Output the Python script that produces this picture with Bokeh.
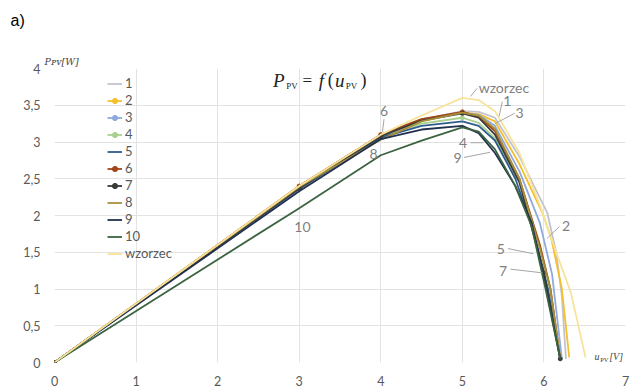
from bokeh.plotting import figure
from bokeh.models import Range1d, Legend, LegendItem, Label, Title, CustomJSTickFormatter, FixedTicker
from bokeh.embed import file_html
from bokeh.resources import INLINE

# ---------------- data ----------------
names = ["1", "2", "3", "4", "5", "6", "7", "8", "9", "10", "wzorzec"]
colors = ["#C3C3CF", "#F5C02C", "#8FAADC", "#A9D18E", "#2F5C8F", "#A0461A",
          "#3A3A3A", "#A8903A", "#22304F", "#3C6440", "#F8E39A"]

x1 = [0, 3, 4, 4.5, 5, 5.2, 5.4, 5.7, 6.04, 6.15, 6.22, 6.27]
y1 = [0, 2.38, 3.08, 3.30, 3.42, 3.41, 3.33, 2.8, 2.04, 1.5, 0.9, 0.05]
x2 = [0, 3, 4, 4.5, 5, 5.2, 5.4, 5.7, 5.98, 6.09, 6.22, 6.31]
y2 = [0, 2.40, 3.10, 3.31, 3.40, 3.38, 3.28, 2.7, 2.04, 1.69, 1.0, 0.07]
x3 = [0, 3, 4, 4.5, 5, 5.2, 5.4, 5.7, 5.95, 6.1, 6.22]
y3 = [0, 2.38, 3.08, 3.29, 3.40, 3.37, 3.22, 2.6, 1.9, 1.2, 0.05]
x4 = [0, 3, 4, 4.5, 5, 5.2, 5.4, 5.7, 5.95, 6.08, 6.2]
y4 = [0, 2.38, 3.07, 3.25, 3.33, 3.26, 3.05, 2.45, 1.6, 1.0, 0.05]
x5 = [0, 3, 4, 4.5, 5, 5.2, 5.4, 5.65, 5.87, 6.05, 6.2]
y5 = [0, 2.36, 3.06, 3.22, 3.28, 3.22, 3.02, 2.5, 1.8, 1.0, 0.05]
x6 = [0, 3, 4, 4.5, 5, 5.2, 5.4, 5.7, 5.95, 6.08, 6.2]
y6 = [0, 2.40, 3.10, 3.31, 3.41, 3.35, 3.15, 2.5, 1.6, 1.0, 0.05]
x7 = [0, 3, 4, 4.5, 5, 5.2, 5.4, 5.7, 6.0, 6.2]
y7 = [0, 2.37, 3.08, 3.29, 3.39, 3.33, 3.1, 2.45, 1.22, 0.05]
x8 = [0, 3, 4, 4.5, 5, 5.2, 5.4, 5.7, 5.95, 6.08, 6.2]
y8 = [0, 2.39, 3.03, 3.28, 3.40, 3.36, 3.18, 2.5, 1.55, 1.0, 0.05]
x9 = [0, 3, 4, 4.5, 5, 5.2, 5.4, 5.65, 5.85, 6.03, 6.2]
y9 = [0, 2.33, 3.04, 3.17, 3.22, 3.12, 2.85, 2.4, 1.9, 1.0, 0.05]
x10 = [0, 3, 4, 4.5, 5, 5.2, 5.4, 5.65, 5.85, 6.02, 6.2]
y10 = [0, 2.10, 2.82, 3.02, 3.20, 3.14, 2.9, 2.4, 1.85, 1.0, 0.05]
xw = [0, 3, 4, 4.5, 5, 5.2, 5.4, 5.7, 5.96, 6.15, 6.33, 6.51]
yw = [0, 2.40, 3.10, 3.36, 3.60, 3.57, 3.42, 2.85, 2.11, 1.5, 0.95, 0.07]

xs = [x1, x2, x3, x4, x5, x6, x7, x8, x9, x10, xw]
ys = [y1, y2, y3, y4, y5, y6, y7, y8, y9, y10, yw]

# series drawn with markers, and the measured voltages where a marker sits
marked = {"2": [0, 3, 4, 5], "3": [0, 3, 4, 5], "4": [0, 3, 4, 5],
          "6": [0, 3, 4, 5], "7": [0, 3, 4, 5, 6.0, 6.2]}

x_ticks = [0, 1, 2, 3, 4, 5, 6, 7]
y_ticks = [0, 0.5, 1, 1.5, 2, 2.5, 3, 3.5, 4]

# in-plot data labels: text, x, y, leader (x0, y0, x1, y1) or None, align
point_labels = [
    ("wzorzec", 5.20, 3.74, (5.18, 3.73, 5.10, 3.62), "left"),
    ("1", 5.55, 3.56, (5.49, 3.55, 5.45, 3.35), "center"),
    ("3", 5.70, 3.39, (5.64, 3.39, 5.40, 3.25), "center"),
    ("4", 5.01, 2.98, (5.10, 2.99, 5.26, 2.99), "center"),
    ("9", 4.94, 2.78, (5.02, 2.79, 5.34, 2.86), "center"),
    ("2", 6.27, 1.86, (6.19, 1.85, 6.04, 1.69), "center"),
    ("5", 5.47, 1.55, (5.56, 1.55, 5.87, 1.48), "center"),
    ("7", 5.50, 1.25, (5.59, 1.27, 5.98, 1.22), "center"),
    ("10", 3.04, 1.84, None, "center"),
    ("6", 4.04, 3.42, (4.04, 3.31, 4.02, 3.14), "center"),
    ("8", 3.91, 2.84, None, "center"),
]

# ---------------- figure ----------------
p = figure(width=633, height=389, output_backend="svg", toolbar_location=None,
           x_range=Range1d(0, 7), y_range=Range1d(0, 4),
           min_border_left=54, min_border_right=8, min_border_top=68, min_border_bottom=27)
p.outline_line_color = None
p.background_fill_color = "white"
p.border_fill_color = "white"

# panel tag (outermost title) and caption of the y axis (nearest the frame)
p.title = Title(text="a)\n\u00a0", align="left", offset=-44, standoff=14,
                text_font="Liberation Sans", text_font_size="16px",
                text_font_style="normal", text_color="#000000")
p.add_layout(Title(text="P\u1d18\u1d20[W]", align="left", offset=-10, standoff=3,
                   text_font="DejaVu Serif", text_font_size="9.5px",
                   text_font_style="italic", text_color="#444444"), "above")

fmt = CustomJSTickFormatter(code="return tick.toString().replace('.', ',');")
for ax in (p.xaxis[0], p.yaxis[0]):
    ax.axis_line_color = None
    ax.major_tick_line_color = None
    ax.minor_tick_line_color = None
    ax.major_label_text_color = "#595959"
    ax.major_label_text_font = "Lato"
    ax.major_label_text_font_size = "12.5px"
    ax.formatter = fmt
p.xaxis[0].ticker = FixedTicker(ticks=x_ticks)
p.yaxis[0].ticker = FixedTicker(ticks=y_ticks)
p.xaxis[0].major_label_standoff = 7
p.yaxis[0].major_label_standoff = 8
p.xgrid.grid_line_color = "#E3E3E3"
p.ygrid.grid_line_color = "#E3E3E3"
p.xgrid.ticker = FixedTicker(ticks=x_ticks)
p.ygrid.ticker = FixedTicker(ticks=y_ticks)

items = []
for name, col, xv, yv in zip(names, colors, xs, ys):
    r = p.line(xv, yv, line_color=col, line_width=1.8, line_join="round")
    rends = [r]
    if name in marked:
        keep = marked[name]
        mx = [a for a in xv if a in keep]
        my = [b for a, b in zip(xv, yv) if a in keep]
        s = p.scatter(mx, my, marker="circle", size=4, fill_color=col, line_color=col)
        rends.append(s)
    items.append(LegendItem(label=name, renderers=rends))

legend = Legend(items=items, location=(53, 101), padding=0, margin=0, spacing=1,
                glyph_width=15, glyph_height=13, label_height=13, label_standoff=3,
                label_text_font="Lato", label_text_font_size="13px",
                label_text_color="#595959", background_fill_alpha=0,
                border_line_color=None)
p.add_layout(legend, "center")

# data labels with leaders
for txt, lx, ly, lead, al in point_labels:
    p.add_layout(Label(x=lx, y=ly, text=txt, text_align=al, text_baseline="middle",
                       text_font="Lato", text_font_size="14px", text_color="#7F7F7F"))
    if lead is not None:
        p.segment(x0=[lead[0]], y0=[lead[1]], x1=[lead[2]], y1=[lead[3]],
                  line_color="#A6A6A6", line_width=1)

serif = "Liberation Serif"
def lab(x, y, t, size, italic=True, color="#222222", font=serif):
    p.add_layout(Label(x=x, y=y, text=t, text_font=font, text_font_size=size,
                       text_font_style="italic" if italic else "normal",
                       text_color=color, text_align="left", text_baseline="middle"))

# formula P_PV = f(u_PV)
lab(2.68, 3.84, "P", "19px")
lab(2.84, 3.76, "PV", "9px", italic=False)
lab(3.04, 3.84, "=", "17px", italic=False)
lab(3.24, 3.84, "f", "19px")
lab(3.35, 3.84, "(", "18px", italic=False)
lab(3.44, 3.84, "u", "19px")
lab(3.57, 3.76, "PV", "9px", italic=False)
lab(3.75, 3.84, ")", "18px", italic=False)

# x axis caption u_PV[V]
lab(6.62, 0.075, "u", "10px", color="#444444")
lab(6.69, 0.04, "PV", "6.5px", italic=False, color="#444444")
lab(6.80, 0.075, "[V]", "10px", color="#444444")

open("out.html", "w").write(file_html(p, INLINE))
